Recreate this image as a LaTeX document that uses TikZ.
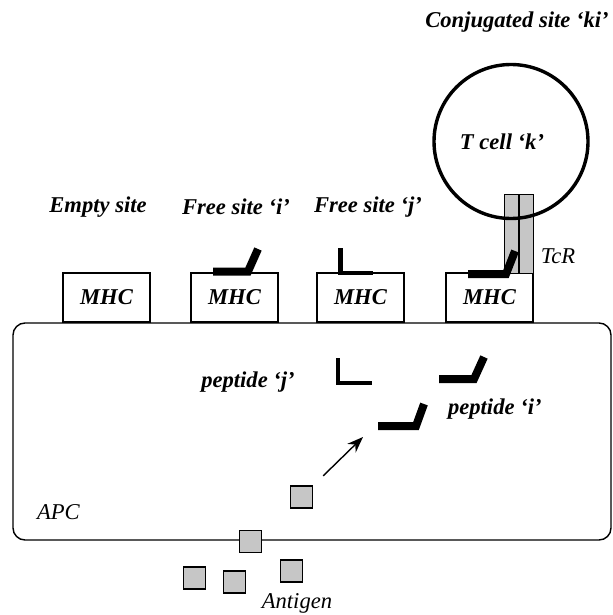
\documentclass[tikz,border=0pt]{standalone}
\usepackage{fontspec}
\setmainfont{Liberation Serif}
\usetikzlibrary{positioning}
\usetikzlibrary{arrows.meta}

\begin{document}
\begin{tikzpicture}[
  x=0.5pt, y=-0.5pt,
  font=\fontsize{11.3}{13}\selectfont,
  title/.style={font=\fontsize{11.3}{13}\selectfont\bfseries\itshape},
  mhc/.style={draw, fill=white, line width=0.6pt, minimum width=43.5pt, minimum height=24.5pt, inner sep=0pt, font=\fontsize{11.3}{13}\selectfont\bfseries\itshape},
  cell/.style={draw, line width=0.7pt, rounded corners=6pt, minimum width=299pt, minimum height=108.5pt},
  tcell/.style={draw, circle, line width=1.7pt, minimum size=77pt, inner sep=0pt},
  tcr/.style={draw, fill=gray!45, line width=0.5pt, minimum width=7pt, minimum height=39.5pt, inner sep=0pt},
  antigen/.style={draw, fill=gray!45, line width=0.7pt, minimum size=11pt, inner sep=0pt},
  pepi/.style={line width=4pt},
  pepj/.style={line width=2.25pt},
  arrow/.style={-{Stealth[length=8pt,width=6pt]}, line width=0.7pt}
]
\useasboundingbox (0,0) rectangle (613,615);

% Antigen presenting cell
\node[cell] (apc) at (312,431.5) {};
\node[anchor=west] (apclbl) at (30,512) {\itshape APC};

% MHC molecules on the surface
\node[mhc] (mhc1) at (106.5,297.5) {MHC};
\node[mhc, right=19.9pt of mhc1] (mhc2) {MHC};
\node[mhc, right=18.9pt of mhc2] (mhc3) {MHC};
\node[mhc, right=20.4pt of mhc3] (mhc4) {MHC};

% Site labels
\node[title] (empty) at (98,207) {Empty site};
\node[title] (freei) at (236,207) {Free site ‘i’};
\node[title] (freej) at (368,207) {Free site ‘j’};
\node[title] (conj) at (517,22) {Conjugated site ‘ki’};

% T cell and its receptor
\node[tcr] (tcra) at (511,233.5) {};
\node[tcr, right=0pt of tcra] (tcrb) {};
\node[tcell] (tcell) at (511,141.5) {};
\node[title] (tlbl) at (502,142) {T cell ‘k’};
\node (tcrlbl) at (558,256) {\itshape TcR};

% Peptides bound to MHC
\draw[pepi] (213,271.5) -- (248,271.5) -- (258,249);
\draw[pepj] (340.5,248) -- (340.5,273) -- (373,273);
\draw[pepi] (468,274) -- (506,274) -- (515,251);

% Peptides inside the cell
\draw[pepj] (338,358) -- (338,383) -- (372,383);
\draw[pepi] (439,379) -- (474,379) -- (484,357);
\draw[pepi] (378,426) -- (416,426) -- (424,404);
\node[title] (pepjlbl) at (248,382) {peptide ‘j’};
\node[title, anchor=west] (pepilbl) at (441,409) {peptide ‘i’};

% Antigen
\node[antigen] (ag1) at (301.5,497) {};
\node[antigen] (ag2) at (250.5,541.5) {};
\node[antigen] (ag3) at (194.5,578) {};
\node[antigen] (ag4) at (234.5,582) {};
\node[antigen] (ag5) at (291.5,571) {};
\node (aglbl) at (297,603) {\itshape Antigen};

\coordinate (tip) at (363,437);
\draw[arrow, shorten <=7pt] (ag1) -- (tip);

\end{tikzpicture}
\end{document}
